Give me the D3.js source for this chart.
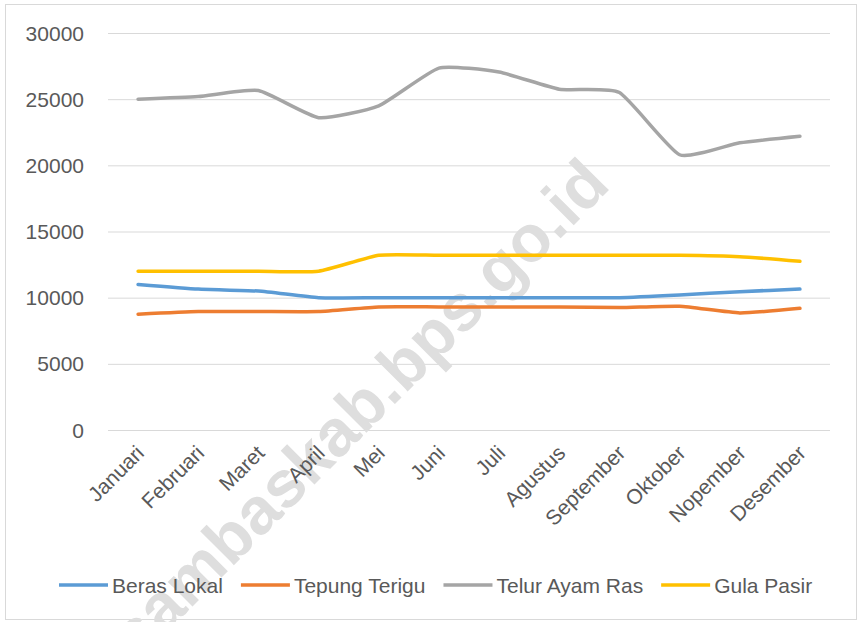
<!DOCTYPE html>
<html lang="en">
<head>
<meta charset="utf-8"/>
<title>Harga bahan pokok</title>
<script src="https://d3js.org/d3.v7.min.js"></script>
<style>
  body { margin: 0; background: #fff; }
  text { font-family: "Liberation Sans", Arial, sans-serif; fill: #595959; }
  .grid line { stroke: #d9d9d9; stroke-width: 1; }
  .grid .domain { display: none; }
</style>
</head>
<body>
<div id="chart"></div>
<script>
// data
var months = ["Januari", "Februari", "Maret", "April", "Mei", "Juni", "Juli",
              "Agustus", "September", "Oktober", "Nopember", "Desember"];
var berasLokal   = [11000, 10650, 10500, 10000, 10000, 10000, 10000, 10000, 10000, 10200, 10450, 10650];
var tepungTerigu = [8750, 8950, 8950, 8950, 9300, 9300, 9300, 9300, 9250, 9350, 8850, 9200];
var telurAyamRas = [25000, 25200, 25650, 23600, 24500, 27350, 27050, 25750, 25500, 20800, 21700, 22200];
var gulaPasir    = [12000, 12000, 12000, 12000, 13200, 13200, 13200, 13200, 13200, 13200, 13100, 12750];
var yTicks = [0, 5000, 10000, 15000, 20000, 25000, 30000];

var seriesNames = ["Beras Lokal", "Tepung Terigu", "Telur Ayam Ras", "Gula Pasir"];
var seriesValues = [berasLokal, tepungTerigu, telurAyamRas, gulaPasir];
var colors = ["#5b9bd5", "#ed7d31", "#a5a5a5", "#ffc000"];

var width = 858, height = 622;

var svg = d3.select("#chart").append("svg")
    .attr("width", width)
    .attr("height", height);

// outer frame
svg.append("rect")
    .attr("x", 5.5).attr("y", 4.5)
    .attr("width", 851).attr("height", 615)
    .attr("fill", "#fff")
    .attr("stroke", "#d9d9d9");

var x = d3.scaleBand()
    .domain(months)
    .range([108, 830]);

var y = d3.scaleLinear()
    .domain([0, 30000])
    .range([430, 33]);

// gridlines
svg.append("g")
    .attr("class", "grid")
    .attr("transform", "translate(108,0)")
    .call(d3.axisLeft(y).tickValues(yTicks).tickSize(-722).tickFormat(""));

// watermark (sits under the lines)
svg.append("text")
    .attr("transform", "translate(612,187) rotate(-45)")
    .attr("text-anchor", "end")
    .attr("font-size", 66)
    .attr("font-weight", "bold")
    .style("fill", "#dedede")
    .text("sambaskab.bps.go.id");

// y labels
svg.append("g")
  .selectAll("text")
  .data(yTicks)
  .enter().append("text")
    .attr("x", 84)
    .attr("y", function(d) { return y(d); })
    .attr("dy", "0.36em")
    .attr("text-anchor", "end")
    .attr("font-size", 21)
    .text(function(d) { return d; });

// x labels
svg.append("g")
  .selectAll("text")
  .data(months)
  .enter().append("text")
    .attr("transform", function(d) {
      return "translate(" + (x(d) + x.bandwidth() / 2 + 2) + ",449) rotate(-45)";
    })
    .attr("dy", "0.36em")
    .attr("text-anchor", "end")
    .attr("font-size", 21)
    .text(function(d) { return d; });

// lines
var line = d3.line()
    .x(function(d, i) { return x(months[i]) + x.bandwidth() / 2; })
    .y(function(d) { return y(d); })
    .curve(d3.curveCardinal.tension(0.5));

svg.append("g")
  .selectAll("path")
  .data(seriesValues)
  .enter().append("path")
    .attr("d", line)
    .attr("fill", "none")
    .attr("stroke", function(d, i) { return colors[i]; })
    .attr("stroke-width", 3.5)
    .attr("stroke-linecap", "round")
    .attr("stroke-linejoin", "round");

// legend
var legend = svg.append("g").attr("transform", "translate(0,585)");
var lx = 59;
seriesNames.forEach(function(name, i) {
  legend.append("line")
      .attr("x1", lx).attr("x2", lx + 49)
      .attr("y1", 0).attr("y2", 0)
      .attr("stroke", colors[i])
      .attr("stroke-width", 3.5);
  var t = legend.append("text")
      .attr("x", lx + 53)
      .attr("dy", "0.36em")
      .attr("font-size", 21)
      .text(name);
  lx += 53 + t.node().getComputedTextLength() + 18;
});
</script>
</body>
</html>
